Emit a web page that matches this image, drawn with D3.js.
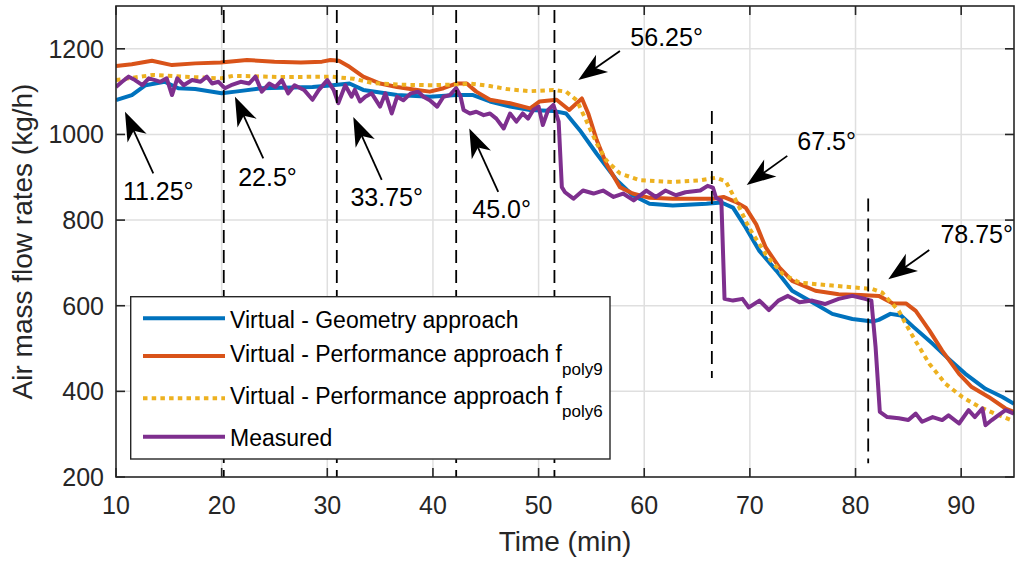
<!DOCTYPE html>
<html>
<head>
<meta charset="utf-8">
<script src="https://cdn.jsdelivr.net/npm/d3@7"></script>
<style>
html,body{margin:0;padding:0;background:#fff;}
svg{display:block;}
text{font-family:"Liberation Sans",Arial,Helvetica,sans-serif;fill:#262626;}
</style>
</head>
<body>
<svg id="chart" width="1016" height="562"></svg>
<script>
// ---------- data ----------
const xTicks = [10,20,30,40,50,60,70,80,90];
const yTicks = [200,400,600,800,1000,1200];
const seriesNames = ["Virtual - Geometry approach","Virtual - Performance approach f","Virtual - Performance approach f","Measured"];
const seriesSubs = ["","poly9","poly6",""];

const geometry = [[10,1080],[11.5,1092],[12.8,1115],[14.6,1123],[15.9,1108],[17.5,1106],[20,1096],[21.3,1100],[23.8,1108],[28.6,1111],[30.5,1115],[32.1,1119],[33.4,1104],[36.6,1092],[39.7,1088],[42.25,1092],[43.8,1092],[45.4,1077],[47.3,1065],[49.2,1057],[51.4,1055],[52.6,1049],[53.9,1010],[55.5,955],[57.4,893],[58.9,858],[60.5,838],[62.7,834],[65.9,838],[67.3,841],[68.4,829],[69.6,783],[70.9,728],[72.5,682],[74,635],[76.2,604],[77.8,581],[79.7,569],[81.6,563],[82.2,567],[83.3,581],[84.3,577],[85.5,550],[87.3,511],[88.8,476],[90.4,441],[92.3,406],[93.9,387],[95,371]];

const poly9 = [[10,1160],[11.5,1164],[13.4,1172],[15.3,1162],[17.5,1166],[19.9,1168],[22.4,1174],[25,1170],[27.5,1168],[29.5,1170],[30.3,1174],[31.1,1172],[32.1,1158],[33.4,1135],[35,1119],[36.6,1111],[38.5,1104],[39.7,1100],[41,1108],[42.2,1119],[43.2,1119],[44.1,1100],[45.4,1081],[47.3,1073],[49.2,1061],[50.1,1077],[51.7,1081],[52.9,1057],[54.1,1084],[54.7,1049],[55.5,987],[56.4,932],[57.7,877],[58.9,862],[60.5,852],[62.7,850],[66.5,850],[67.5,854],[68.7,842],[69.6,829],[70.6,790],[71.5,736],[72.8,689],[74,658],[76.2,635],[78.4,627],[80.5,625],[82.2,623],[83.5,606],[84.8,605],[85.7,588],[87,542],[88.2,495],[89.8,441],[91,410],[92.6,387],[94.2,360],[95,352]];

const poly6 = [[10,1127],[13.5,1139],[16.3,1135],[19.9,1131],[21.1,1137],[25.8,1134],[30.3,1135],[32.5,1130],[34.3,1120],[36.9,1116],[40,1115],[42.6,1117],[43.5,1119],[45.4,1113],[47,1106],[49.2,1101],[51.4,1104],[52.6,1100],[53.6,1080],[54.5,1033],[55.5,979],[56.4,940],[57.7,909],[59.6,893],[62.7,889],[65.3,893],[66.8,899],[67.7,891],[68.7,845],[69.9,783],[71.5,720],[73.1,674],[74.7,654],[77.8,647],[81.6,639],[82.5,631],[83.5,604],[84.1,588],[84.7,560],[85.5,525],[87,464],[88.5,418],[90.1,387],[91.7,364],[93.2,348],[95,330]];

const measured = [[10,1111],[10.57,1123],[11.2,1135],[11.8,1127],[12.5,1115],[13.1,1131],[13.7,1127],[14.2,1123],[14.8,1131],[15.3,1092],[15.8,1131],[16.4,1115],[17.2,1127],[18,1123],[18.6,1135],[19.1,1119],[19.7,1123],[20.3,1108],[20.9,1115],[21.8,1123],[22.6,1119],[23.2,1135],[23.8,1100],[24.5,1119],[25.1,1111],[25.7,1127],[26.3,1096],[26.9,1115],[27.8,1104],[28.6,1081],[29.2,1104],[30,1127],[30.6,1104],[31.04,1073],[31.7,1115],[32.3,1088],[32.6,1104],[33.1,1077],[33.6,1088],[34.2,1096],[35,1065],[35.5,1096],[36.1,1049],[36.6,1088],[37.2,1080],[37.9,1096],[38.6,1100],[39.1,1088],[39.7,1080],[40.4,1065],[41,1088],[41.6,1092],[42.2,1108],[42.6,1090],[42.9,1057],[43.5,1049],[44.1,1053],[44.8,1045],[45.4,1049],[46,1037],[46.7,1014],[47.3,1049],[47.9,1030],[48.5,1049],[49,1037],[49.5,1057],[50,1065],[50.4,1022],[50.9,1057],[51.4,1069],[51.9,1030],[52.2,877],[52.5,865],[53.3,850],[54.2,869],[55.2,862],[56.1,869],[57.1,854],[58,862],[59,846],[60.2,869],[61.1,854],[62,869],[63,858],[63.9,865],[65.3,869],[66,880],[66.5,876],[66.8,852],[67.3,845],[67.6,616],[68.4,612],[69.3,616],[69.9,596],[70.9,612],[71.8,590],[72.7,612],[73.6,623],[74.7,608],[75.9,612],[77.1,604],[78.4,616],[79.7,623],[80.9,616],[81.5,612],[81.9,503],[82.3,352],[83,340],[84.1,337],[85,333],[85.7,348],[86.3,329],[87.3,340],[88.2,333],[88.8,344],[89.8,325],[90.7,356],[91.3,340],[92,360],[92.3,321],[92.9,333],[93.5,344],[94.2,356],[95,348]];

// vertical dashed markers (time, top value, bottom value)
const markerTimes = [20.2,30.9,42.2,51.5,66.4,81.2];
const markerTop = [1300,1300,1300,1300,1064,860];
const markerBottom = [200,200,200,200,431,232];

// annotations: label, arrow head (t,v), arrow tail (t,v), text centre (t,v baseline)
const annoLabels = ["11.25°","22.5°","33.75°","45.0°","56.25°","67.5°","78.75°"];
const annoHead = [[10.85,1053],[21.26,1088],[32.46,1041],[43.44,1014],[53.76,1127],[69.7,882],[83.1,662]];
const annoTail = [[13.53,909],[23.94,944],[35.15,894],[46.18,866],[57.7,1195],[73.54,950],[86.98,730]];
const annoText = [[14.0,847],[24.34,880],[35.62,834],[46.5,804],[62.12,1207],[77.27,964],[91.47,746]];

// ---------- drawing ----------
const svg = d3.select("#chart");
const L = 116, R = 1014, T = 6, B = 477;
const x = d3.scaleLinear().domain([10,95]).range([L,R]);
const y = d3.scaleLinear().domain([200,1300]).range([B,T]);

const colors = ["#0072BD","#D95319","#EDB120","#7E2F8E"];
const axisColor = "#262626";

svg.append("rect").attr("x",L).attr("y",T).attr("width",R-L).attr("height",B-T).attr("fill","#fff");

// grid
const grid = svg.append("g").attr("stroke","#dfdfdf").attr("stroke-width",1.5);
xTicks.forEach(t=>{ if(t>10) grid.append("line").attr("x1",x(t)).attr("x2",x(t)).attr("y1",T).attr("y2",B); });
yTicks.forEach(v=>{ if(v>200) grid.append("line").attr("x1",L).attr("x2",R).attr("y1",y(v)).attr("y2",y(v)); });

svg.append("clipPath").attr("id","clip").append("rect").attr("x",L).attr("y",T).attr("width",R-L).attr("height",B-T);

const line = d3.line().x(d=>x(d[0])).y(d=>y(d[1]));
const series = [geometry, poly9, poly6, measured];
const plot = svg.append("g").attr("clip-path","url(#clip)");
series.forEach((s,i)=>{
  const p = plot.append("path").datum(s).attr("d",line)
    .attr("fill","none").attr("stroke",colors[i]).attr("stroke-width",4)
    .attr("stroke-linejoin","round");
  if(i===2) p.attr("stroke-dasharray","4.5,4.2");
});

// dashed vertical markers
markerTimes.forEach((t,i)=>{
  svg.append("line").attr("x1",x(t)).attr("x2",x(t))
    .attr("y1",y(markerTop[i])+4).attr("y2",y(markerBottom[i]))
    .attr("stroke","#000").attr("stroke-width",1.8).attr("stroke-dasharray","13,7");
});

// axes box
svg.append("rect").attr("x",L).attr("y",T).attr("width",R-L).attr("height",B-T)
  .attr("fill","none").attr("stroke",axisColor).attr("stroke-width",1.6);

// ticks (inward, all sides)
const tk = svg.append("g").attr("stroke",axisColor).attr("stroke-width",1.6);
xTicks.forEach(t=>{
  tk.append("line").attr("x1",x(t)).attr("x2",x(t)).attr("y1",B).attr("y2",B-9);
  tk.append("line").attr("x1",x(t)).attr("x2",x(t)).attr("y1",T).attr("y2",T+9);
});
yTicks.forEach(v=>{
  tk.append("line").attr("x1",L).attr("x2",L+9).attr("y1",y(v)).attr("y2",y(v));
  tk.append("line").attr("x1",R).attr("x2",R-9).attr("y1",y(v)).attr("y2",y(v));
});

// tick labels
xTicks.forEach(t=>{
  svg.append("text").attr("x",x(t)).attr("y",514).attr("text-anchor","middle")
    .attr("font-size",25).text(t);
});
yTicks.forEach(v=>{
  svg.append("text").attr("x",104).attr("y",y(v)+9).attr("text-anchor","end")
    .attr("font-size",25).text(v);
});

// axis labels
svg.append("text").attr("x",(L+R)/2).attr("y",551).attr("text-anchor","middle")
  .attr("font-size",28).text("Time (min)");
svg.append("text").attr("transform",`translate(32,${(T+B)/2}) rotate(-90)`)
  .attr("text-anchor","middle").attr("font-size",28).text("Air mass flow rates (kg/h)");

// annotations
function arrow(hx,hy,tx,ty){
  const dx = hx-tx, dy = hy-ty, len = Math.hypot(dx,dy);
  const ux = dx/len, uy = dy/len, px = -uy, py = ux;
  const HL = 29, HW = 10.5, NOTCH = 21;
  const g = svg.append("g");
  g.append("line").attr("x1",tx).attr("y1",ty).attr("x2",hx-ux*NOTCH*0.9).attr("y2",hy-uy*NOTCH*0.9)
    .attr("stroke","#000").attr("stroke-width",1.8);
  const pts = [
    [hx,hy],
    [hx-ux*HL+px*HW, hy-uy*HL+py*HW],
    [hx-ux*NOTCH, hy-uy*NOTCH],
    [hx-ux*HL-px*HW, hy-uy*HL-py*HW]
  ];
  g.append("path").attr("d","M"+pts.map(p=>p.join(",")).join("L")+"Z").attr("fill","#000");
}
annoLabels.forEach((lab,i)=>{
  arrow(x(annoHead[i][0]),y(annoHead[i][1]),x(annoTail[i][0]),y(annoTail[i][1]));
  svg.append("text").attr("x",x(annoText[i][0])).attr("y",y(annoText[i][1]))
    .attr("text-anchor","middle").attr("font-size",25).style("fill","#000").text(lab);
});

// legend
const lg = svg.append("g");
lg.append("rect").attr("x",130.7).attr("y",296.7).attr("width",479.3).attr("height",162.3)
  .attr("fill","#fff").attr("stroke",axisColor).attr("stroke-width",1.4);
const legLineY = [318.3,356,398.3,436.7];
seriesNames.forEach((nm,i)=>{
  const ly = legLineY[i];
  const l = lg.append("line").attr("x1",143).attr("x2",225).attr("y1",ly).attr("y2",ly)
    .attr("stroke",colors[i]).attr("stroke-width",4);
  if(i===2) l.attr("stroke-dasharray","4.5,4.2");
  const hasSub = seriesSubs[i] !== "";
  const tx = lg.append("text").attr("x",230).attr("y",hasSub ? ly+6 : ly+9.5).attr("font-size",23).style("fill","#000");
  tx.append("tspan").text(nm);
  if(hasSub){
    tx.append("tspan").attr("dy",12.5).attr("font-size",17).text(seriesSubs[i]);
  }
});
</script>
</body>
</html>
